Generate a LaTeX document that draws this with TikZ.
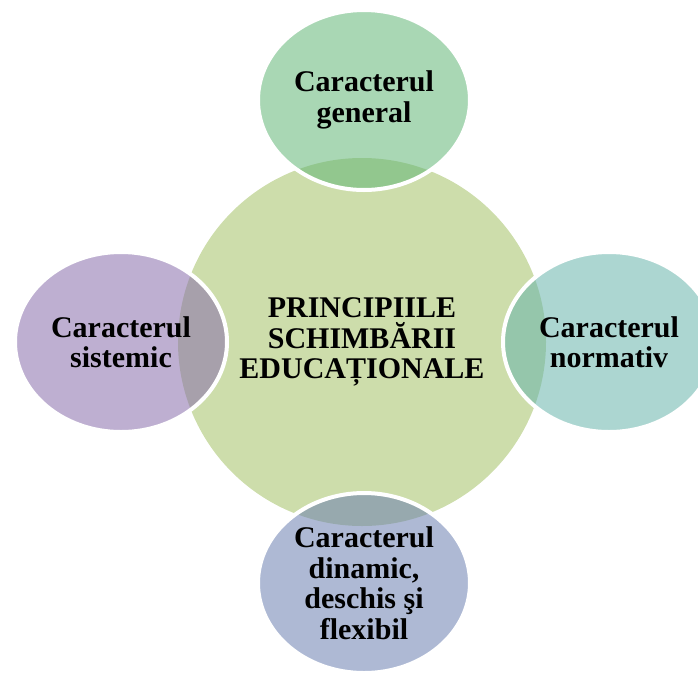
\documentclass[tikz,border=0pt]{standalone}
\usepackage{fontspec}
\setmainfont{Liberation Serif}
\usetikzlibrary{shapes.geometric}
\definecolor{ccenter}{RGB}{205,221,171}
\definecolor{ctop}{RGB}{99,182,119}
\definecolor{cright}{RGB}{104,180,171}
\definecolor{cleft}{RGB}{137,110,171}
\definecolor{cbottom}{RGB}{108,128,177}
\begin{document}
\begin{tikzpicture}[x=1pt,y=-1pt,
  lbl/.style={align=center, font=\bfseries\fontsize{30}{30.5}\selectfont, text=black},
  sat/.style={lbl, ellipse, minimum width=212pt, minimum height=180pt, inner sep=0pt,
    draw=white, line width=4pt, draw opacity=1, fill opacity=0.55, text opacity=1}]
\useasboundingbox (0,0) rectangle (698,675);
\node[lbl, circle, minimum size=368pt, inner sep=0pt, fill=ccenter] (center) at (362,342)
  {PRINCIPIILE\\SCHIMBĂRII\\EDUCAȚIONALE};
\node[sat, fill=ctop] (top) at (364,100) {Caracterul\\general};
\node[sat, fill=cright] (right) at (609,342) {Caracterul\\normativ};
\node[sat, fill=cbottom] (bottom) at (364,583) {Caracterul\\dinamic,\\deschis şi\\flexibil};
\node[sat, fill=cleft] (left) at (121,342) {Caracterul\\sistemic};
\end{tikzpicture}
\end{document}
